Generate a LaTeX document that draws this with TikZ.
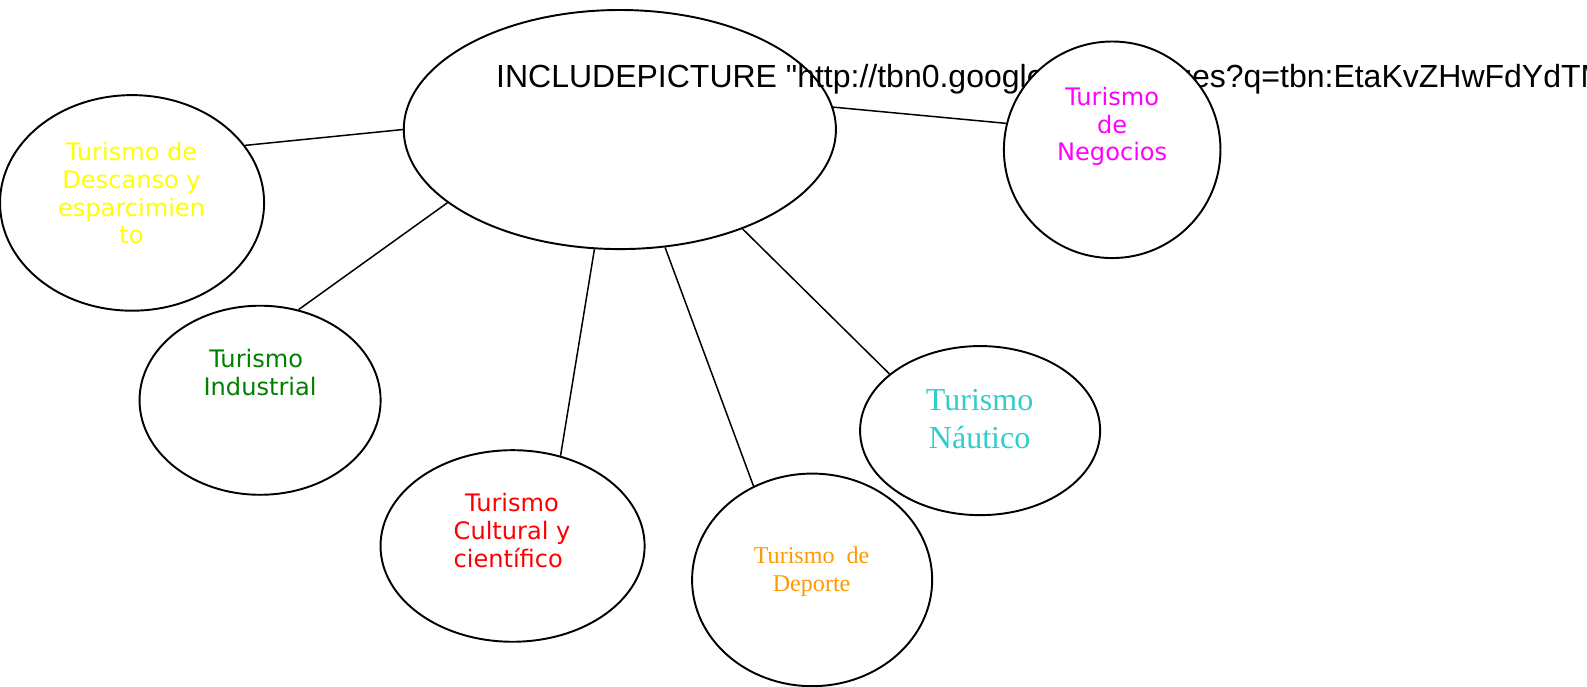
\documentclass[tikz,border=0pt]{standalone}
\usepackage{fontspec}
\usetikzlibrary{shapes.geometric}
\newfontfamily\dejavu{DejaVu Sans}
\newfontfamily\timesf{Liberation Serif}
\newfontfamily\arialf{Liberation Sans}
\definecolor{amarillo}{RGB}{255,255,0}
\definecolor{fucsia}{RGB}{255,0,255}
\definecolor{verde}{RGB}{0,128,0}
\definecolor{rojo}{RGB}{255,0,0}
\definecolor{turquesa}{RGB}{51,204,204}
\definecolor{naranja}{RGB}{255,153,0}

\begin{document}
\begin{tikzpicture}[x=0.02024cm, y=-0.02024cm,
  every node/.style = {inner sep=0pt},
  bubble/.style = {shape=ellipse, draw, line width=1.1pt},
  tema/.style = {align=center, font=\dejavu\fontsize{13.7}{15.8}\selectfont},
  enlace/.style = {line width=0.85pt}]

\useasboundingbox (0,0) rectangle (1568.2,677.9);
\clip (0,0) rectangle (1568.2,677.9);

% centre and its picture field
\node[bubble, minimum width=8.64cm, minimum height=4.78cm] (centro) at (612.5,128) {};
\node[overlay, anchor=base west, font=\arialf\fontsize{18.2}{21}\selectfont] (campo) at (490,86)
	{INCLUDEPICTURE "http://tbn0.google.com/images?q=tbn:EtaKvZHwFdYdTM};

% the branches
\node[bubble, minimum width=5.28cm, minimum height=4.31cm] (descanso) at (130.5,200.5) {};
\node[bubble, fill=white, minimum width=4.33cm, minimum height=4.33cm] (negocios) at (1099,148) {};
\node[bubble, minimum width=4.82cm, minimum height=3.78cm] (industrial) at (257,395.5) {};
\node[bubble, minimum width=5.28cm, minimum height=3.83cm] (cultural) at (506.5,539.5) {};
\node[bubble, minimum width=4.80cm, minimum height=4.25cm] (deporte) at (802.5,573) {};
\node[bubble, minimum width=4.80cm, minimum height=3.38cm] (nautico) at (968.5,425.5) {};

% texts
\node[tema, text=amarillo] (tDescanso) at (130,191) {Turismo de\\Descanso y\\esparcimien\\to};
\node[tema, text=fucsia] (tNegocios) at (1099,125) {Turismo\\de\\Negocios};
\node[tema, text=verde] (tIndustrial) at (257,368) {Turismo\hspace*{0.32em}\\Industrial};
\node[tema, text=rojo] (tCultural) at (506,524) {Turismo\\Cultural y\\científico\hspace*{0.32em}};
\node[align=center, text=naranja, font=\timesf\fontsize{13.7}{16.1}\selectfont] (tDeporte) at (802,565)
	{Turismo\ \ de\\Deporte};
\node[align=center, text=turquesa, font=\timesf\fontsize{18.2}{21.3}\selectfont] (tNautico) at (968,414)
	{Turismo\\Náutico};

% connectors
\draw[enlace] (centro.180) -- (descanso.27.5);
\draw[enlace] (centro.6.1) -- (negocios.166);
\draw[enlace] (centro.203.4) -- (industrial.67.5);
\draw[enlace] (centro.258.7) -- (cultural.62.8);
\draw[enlace] (centro.291.9) -- (deporte.122.7);
\draw[enlace] (centro.321.5) -- (nautico.148.5);
\end{tikzpicture}
\end{document}
